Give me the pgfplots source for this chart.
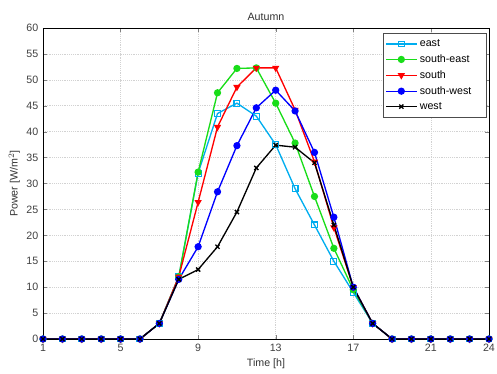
\documentclass[border=0pt]{standalone}
\usepackage{pgfplots}
\pgfplotsset{compat=1.18}
\usepackage{fontspec}
\setmainfont{Liberation Sans}
\begin{document}
\begin{tikzpicture}
\begin{axis}[
  scale only axis,
  width=334.5pt, height=233.25pt,
  xmin=1, xmax=24, ymin=0, ymax=60,
  xtick={1,5,9,13,17,21,24},
  ytick={0,5,...,60},
  grid=major,
  major grid style={gray!35, densely dotted},
  tick align=inside,
  ticks=major,
  major tick length=3pt,
  tick label style={font=\footnotesize, text=black!75},
  /pgf/number format/assume math mode=true,
  title={Autumn},
  title style={font=\footnotesize, text=black!80, yshift=-4pt},
  xlabel={Time [h]},
  ylabel={Power [W/m$^2$]},
  label style={font=\footnotesize, text=black!80},
  xlabel style={yshift=1pt},
  ylabel style={yshift=-2pt},
  legend style={font=\footnotesize, draw=black!70, fill=white, inner xsep=2pt, inner ysep=2.5pt, row sep=0.6pt, legend cell align=left, at={(0.995,0.983)}, anchor=north east,
    text width=46pt},
  legend image code/.code={\draw[mark repeat=2,mark phase=2] plot coordinates {(0cm,0cm)(0.4cm,0cm)(0.8cm,0cm)};},
  legend image post style={sharp plot},
  every axis plot/.append style={line width=1pt, mark size=2.2pt},
]
\addplot[cyan, mark=square, mark options={solid, line width=0.8pt}] coordinates {
(1,0)(2,0)(3,0)(4,0)(5,0)(6,0)(7,3)(8,12)(9,32)(10,43.5)(11,45.5)(12,43)(13,37.5)(14,29)(15,22)(16,15)(17,9)(18,3)(19,0)(20,0)(21,0)(22,0)(23,0)(24,0)};
\addlegendentry{east}
\addplot[green!85!black!90, mark=*, mark options={solid, fill=green!85!black!90}] coordinates {
(1,0)(2,0)(3,0)(4,0)(5,0)(6,0)(7,3)(8,12)(9,32.2)(10,47.5)(11,52.2)(12,52.3)(13,45.5)(14,37.8)(15,27.5)(16,17.5)(17,9.5)(18,3)(19,0)(20,0)(21,0)(22,0)(23,0)(24,0)};
\addlegendentry{south-east}
\addplot[red, mark=triangle*, mark options={solid, fill=red, rotate=180}] coordinates {
(1,0)(2,0)(3,0)(4,0)(5,0)(6,0)(7,3)(8,12)(9,26.4)(10,40.9)(11,48.6)(12,52.3)(13,52.3)(14,44.2)(15,34.2)(16,21.5)(17,10)(18,3)(19,0)(20,0)(21,0)(22,0)(23,0)(24,0)};
\addlegendentry{south}
\addplot[blue, mark=*, mark options={solid, fill=blue}] coordinates {
(1,0)(2,0)(3,0)(4,0)(5,0)(6,0)(7,3)(8,11.5)(9,17.8)(10,28.4)(11,37.3)(12,44.6)(13,48)(14,44)(15,36)(16,23.5)(17,10)(18,3)(19,0)(20,0)(21,0)(22,0)(23,0)(24,0)};
\addlegendentry{south-west}
\addplot[black, mark=x, mark options={solid}] coordinates {
(1,0)(2,0)(3,0)(4,0)(5,0)(6,0)(7,3)(8,11.5)(9,13.4)(10,17.8)(11,24.5)(12,33)(13,37.4)(14,37)(15,34)(16,22)(17,10)(18,3)(19,0)(20,0)(21,0)(22,0)(23,0)(24,0)};
\addlegendentry{west}
\end{axis}
\pgfresetboundingbox
\path ([shift={(-32.25pt,-26.25pt)}]current axis.south west) rectangle ([shift={(6pt,21pt)}]current axis.north east);
\end{tikzpicture}
\end{document}
